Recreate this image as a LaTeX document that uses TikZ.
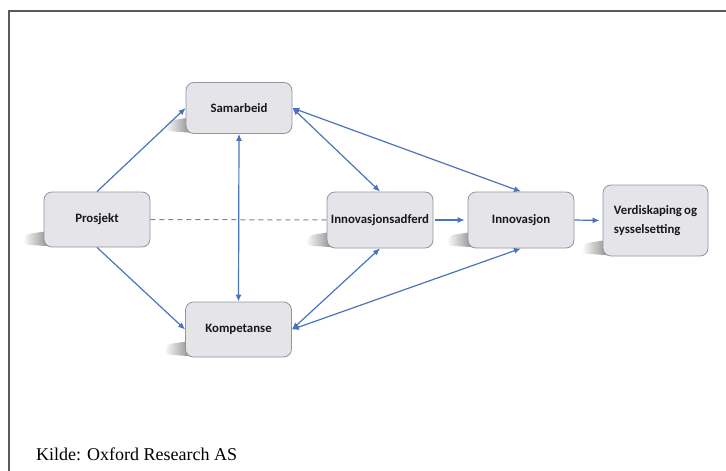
\documentclass[tikz,border=0pt]{standalone}
\usepackage{fontspec}
\setmainfont{Liberation Serif}
\setsansfont{Carlito}
\usetikzlibrary{arrows.meta,calc,fadings}
\definecolor{boxfill}{HTML}{E5E5E9}
\definecolor{boxline}{HTML}{8D96A2}
\definecolor{arrowc}{HTML}{4A73BE}
\definecolor{dashc}{HTML}{6F86A8}
\definecolor{framec}{HTML}{5A5A5A}
\definecolor{shadowc}{HTML}{6A6A6A}
\tikzfading[name=shfade, left color=transparent!100, right color=transparent!15]
\pgfdeclarelayer{bg}
\pgfsetlayers{bg,main}
\tikzset{
  mbox/.style={rectangle, rounded corners=8pt, draw=boxline, fill=boxfill, line width=0.8pt,
    minimum width=106pt, minimum height=55pt, inner sep=2pt,
    font=\sffamily\bfseries\fontsize{12.8}{19}\selectfont, text=black!90},
  conn/.style={draw=arrowc, line width=1.2pt, -{Latex[length=7pt,width=6pt]}},
  biconn/.style={draw=arrowc, line width=1.2pt, {Latex[length=7pt,width=6pt]}-{Latex[length=7pt,width=6pt]}},
  dconn/.style={draw=dashc, line width=1pt, dash pattern=on 5pt off 4pt},
  framel/.style={draw=framec, line width=1.5pt},
  shad/.style={fill=shadowc, path fading=shfade, rounded corners=4pt}
}
\newcommand\boxshadow[1]{%
  \begin{pgfonlayer}{bg}
  \fill[shad] ($(#1.south west)+(8,-17)$) -- ($(#1.south west)+(-18,-13)$) -- ($(#1.south west)+(-21,-3)$) -- ($(#1.south west)+(8,-1)$) -- cycle;
  \end{pgfonlayer}}
\begin{document}
\begin{tikzpicture}[x=1pt,y=-1pt]
\useasboundingbox (0,0) rectangle (726,471);
\draw[framel] (9,471) -- (9,11) -- (726,11);

\node[mbox, minimum height=51pt] (sam) at (239,108) {Samarbeid};
\node[mbox] (pro) at (97,219.5) {Prosjekt};
\node[mbox] (kom) at (238.5,329.5) {Kompetanse};
\node[mbox, minimum height=56pt] (adf) at (380,220) {Innovasjonsadferd};
\node[mbox, minimum height=56pt] (inn) at (521,220) {Innovasjon};
\node[mbox, minimum width=105pt, minimum height=71pt, align=left] (ver) at (655.5,220.5) {Verdiskaping\,og\\sysselsetting};

\boxshadow{sam}
\boxshadow{pro}
\boxshadow{kom}
\boxshadow{adf}
\boxshadow{inn}
\boxshadow{ver}

\draw[conn] (pro.north) -- (sam.west);
\draw[conn] (pro.south) -- (kom.west);
\draw[dconn] (pro.east) -- (adf.west);
\draw[biconn] (sam.south) -- (kom.north);
\draw[biconn] (sam.east) -- (adf.north);
\draw[biconn] (sam.east) -- (inn.north);
\draw[biconn] (kom.east) -- (adf.south);
\draw[biconn] (kom.east) -- (inn.south);
\draw[conn, shorten <=2pt, shorten >=3pt] (adf.east) -- (inn.west);
\draw[conn, shorten >=3pt] (inn.east) -- (ver.west);

\node[anchor=base west, inner sep=0pt, font=\fontsize{18}{20}\selectfont] (src) at (36,460) {Kilde: Oxford Research AS};
\end{tikzpicture}
\end{document}
